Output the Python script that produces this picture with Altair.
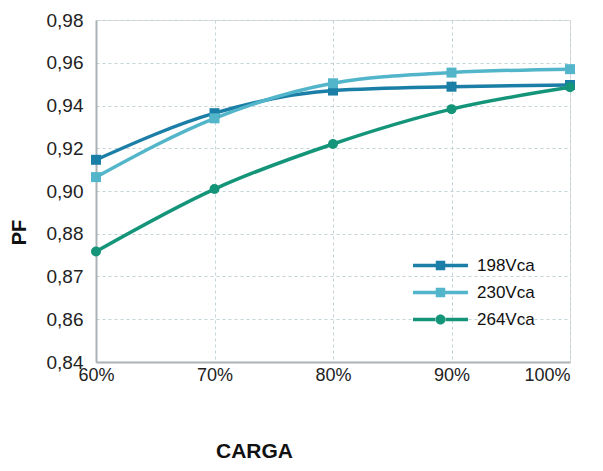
import altair as alt
import pandas as pd

carga = [60, 70, 80, 90, 100]
series_names = ["198Vca", "230Vca", "264Vca"]
pf_198 = [0.9146, 0.9364, 0.9470, 0.9488, 0.9496]
pf_230 = [0.9065, 0.9340, 0.9504, 0.9554, 0.9570]
pf_264 = [0.8717, 0.9009, 0.9220, 0.9383, 0.9485]
colors = ["#1b7ea6", "#52b5c9", "#14957a"]

y_tick_values = [0.82, 0.84, 0.86, 0.88, 0.90, 0.92, 0.94, 0.96, 0.98]
y_tick_labels = ["0,84", "0,86", "0,87", "0,88", "0,90", "0,92", "0,94", "0,96", "0,98"]
x_tick_labels = ["60%", "70%", "80%", "90%", "100%"]

rows = []
for name, vals in zip(series_names, [pf_198, pf_230, pf_264]):
    for c, v in zip(carga, vals):
        rows.append({"carga": c, "pf": v, "serie": name})
df = pd.DataFrame(rows)

# label expressions built from the tick label lists
def build_expr(values, labels, scale):
    expr = "''"
    for v, l in zip(values, labels):
        expr = f"round(datum.value*{scale})=={round(v*scale)} ? '{l}' : ({expr})"
    return expr

y_label_expr = build_expr(y_tick_values, y_tick_labels, 100)
x_label_expr = build_expr(carga, x_tick_labels, 1)

x_enc = alt.X("carga:Q",
              scale=alt.Scale(domain=[60, 100], nice=False, zero=False),
              axis=alt.Axis(values=carga, labelExpr=x_label_expr, title="CARGA",
                            titleFontSize=21, titleFontWeight="bold", titleColor="#111",
                            titleX=158, titleY=95, titleBaseline="alphabetic", titleAlign="center",
                            labelFontSize=18, labelColor="#222", labelPadding=4,
                            labelFlush=False, labelOverlap=False,
                            labelAlign={"condition": {"test": f"datum.value == {carga[-1]}",
                                                      "value": "right"},
                                        "value": "center"},
                            ticks=False, grid=True, gridDash=[3, 3], gridColor="#c3d3d8",
                            domainColor="#a9b2b5", domainWidth=2, labelFont="Liberation Sans",
                            titleFont="Liberation Sans"))
y_enc = alt.Y("pf:Q",
              scale=alt.Scale(domain=[0.82, 0.98], nice=False, zero=False),
              axis=alt.Axis(values=y_tick_values, labelExpr=y_label_expr, title="PF",
                            titleFontSize=20, titleFontWeight="bold", titleColor="#111",
                            titleX=-67, titleY=212, titleAngle=-90, titleAlign="center",
                            titleBaseline="bottom",
                            labelFontSize=19, labelColor="#222", labelPadding=13,
                            labelFlush=False, labelOverlap=False,
                            ticks=False, grid=True, gridDash=[3, 3], gridColor="#c3d3d8",
                            domainColor="#a9b2b5", domainWidth=2, labelFont="Liberation Sans",
                            titleFont="Liberation Sans"))

color_scale = alt.Scale(domain=series_names, range=colors)

lines = alt.Chart(df).mark_line(interpolate="monotone", strokeWidth=3.5).encode(
    x=x_enc, y=y_enc,
    color=alt.Color("serie:N", scale=color_scale, legend=None),
    detail="serie:N",
)

points = alt.Chart(df).mark_point(filled=True, opacity=1, size=100).encode(
    x="carga:Q", y="pf:Q",
    color=alt.Color("serie:N", scale=color_scale, legend=None),
    shape=alt.Shape("serie:N", scale=alt.Scale(domain=series_names,
                                                range=["square", "square", "circle"]), legend=None),
)

# legend-only layer: custom symbols (line + marker), invisible on the plot
sq_line = ("M-5.5,-0.35L-0.9,-0.35L-0.9,0.35L-5.5,0.35Z"
           "M0.9,-0.35L5.5,-0.35L5.5,0.35L0.9,0.35Z"
           "M-0.95,-0.95L0.95,-0.95L0.95,0.95L-0.95,0.95Z")
ci_line = ("M-5.5,-0.35L-0.9,-0.35L-0.9,0.35L-5.5,0.35Z"
           "M0.9,-0.35L5.5,-0.35L5.5,0.35L0.9,0.35Z"
           "M-1,0A1,1 0 1,0 1,0A1,1 0 1,0 -1,0Z")

leg = alt.Legend(title=None, orient="none", legendX=336, legendY=237,
                 symbolSize=100, symbolOpacity=1, labelOffset=28,
                 labelFontSize=17, labelColor="#111", rowPadding=9,
                 padding=0, labelFont="Liberation Sans", symbolStrokeWidth=0)

legend_layer = alt.Chart(df).mark_point(filled=True, size=100).encode(
    x="carga:Q", y="pf:Q",
    opacity=alt.value(0),
    color=alt.Color("serie:N", scale=color_scale, legend=leg),
    shape=alt.Shape("serie:N",
                    scale=alt.Scale(domain=series_names, range=[sq_line, sq_line, ci_line]),
                    legend=leg),
)

chart = alt.layer(legend_layer, lines, points).resolve_scale(
    shape="independent", color="independent"
).resolve_legend(shape="independent", color="independent").properties(
    width=474, height=342,
    autosize=alt.AutoSizeParams(type="none"),
    padding={"left": 88, "top": 12, "right": 25, "bottom": 101},
).configure_view(
    fill="#d9eef3", stroke="#9aa4a8", strokeDash=[3, 3], strokeWidth=1.5
).configure(font="Liberation Sans")

chart.save("out.html", embed_options={"renderer": "svg", "actions": False})
